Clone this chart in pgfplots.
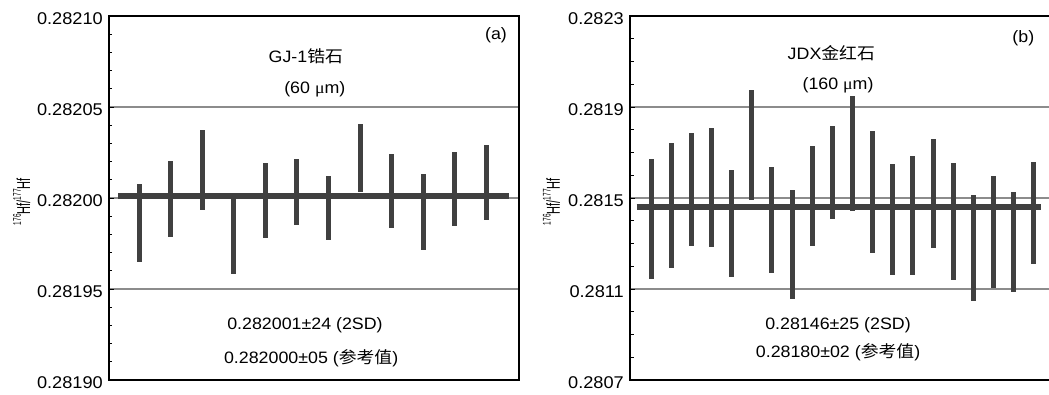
\documentclass[border=0pt]{standalone}
\usepackage{pgfplots}
\usepackage{pgfplotstable}
\pgfplotsset{compat=1.18}
\usepackage{fontspec}
\setmainfont{Liberation Sans}
\newfontfamily\cjk{Noto Sans CJK SC}
\newfontfamily\serif{Liberation Serif}
\definecolor{barc}{HTML}{404040}
\definecolor{gridc}{HTML}{8C8C8C}
\pgfplotstableread{
x y e
1 0.2819863 0.0000216
2 0.2819995 0.0000210
3 0.2820153 0.0000218
4 0.2819797 0.0000215
5 0.2819985 0.0000205
6 0.2820033 0.0000182
7 0.2819945 0.0000178
8 0.2820222 0.0000187
9 0.2820037 0.0000204
10 0.2819924 0.0000209
11 0.2820048 0.0000203
12 0.2820085 0.0000207
}\dataA
\pgfplotstableread{
x y e
1 0.2814065 0.0002644
2 0.2814658 0.0002738
3 0.2815394 0.0002484
4 0.2815454 0.0002613
5 0.2813876 0.0002350
6 0.2817322 0.0002410
7 0.2814030 0.0002329
8 0.2812956 0.0002381
9 0.2815088 0.0002204
10 0.2816124 0.0002031
11 0.2816963 0.0002519
12 0.2815263 0.0002686
13 0.2814065 0.0002438
14 0.2814227 0.0002600
15 0.2815184 0.0002388
16 0.2813971 0.0002576
17 0.2812810 0.0002335
18 0.2813504 0.0002447
19 0.2813051 0.0002199
20 0.2814328 0.0002250
}\dataB
\tikzset{annot/.style={font=\fontsize{16.5}{19}\selectfont, anchor=center, xscale=1.08}}
\newcommand{\hfratio}{\raisebox{0.5em}{\fontsize{6.5}{7}\selectfont 176}Hf/\raisebox{0.5em}{\fontsize{6.5}{7}\selectfont 177}Hf}
\begin{document}
\begin{tikzpicture}
\pgfplotsset{
  panel/.style={
    scale only axis, height=364pt,
    axis line style={black, line width=1.3pt},
    xtick=\empty,
    ytick pos=left,
    tick align=inside,
    major tick length=5pt, minor tick length=3.5pt,
    every tick/.style={black, line width=0.9pt},
    ymajorgrids, grid style={gridc, line width=1.5pt},
    yticklabel style={font=\fontsize{17}{20}\selectfont, inner sep=0pt, xshift=-6pt, yshift=-2.5pt, xscale=1.07},
    /pgf/number format/assume math mode=true,
    ylabel style={font=\fontsize{11}{13}\selectfont, anchor=center, yscale=1.7},
    clip=false,
  },
  bars/.style={draw=none, mark=none,
    error bars/.cd, y dir=both, y explicit, error mark=none,
    error bar style={line width=5pt, color=barc}},
}
% ---------- panel (a)
\begin{axis}[panel, at={(0pt,0pt)}, anchor=south west, width=410pt,
  xmin=0.05, xmax=13.03, ymin=0.28190, ymax=0.28210,
  ytick={0.28190,0.28195,0.28200,0.28205,0.28210},
  yticklabels={0.28190,0.28195,0.28200,0.28205,0.28210},
  minor ytick={0.28191,0.28192,0.28193,0.28194,0.28196,0.28197,0.28198,0.28199,0.28201,0.28202,0.28203,0.28204,0.28206,0.28207,0.28208,0.28209},
  ylabel={\hfratio},
  ylabel style={at={(axis description cs:-0.213,0.49)}},
]
\addplot[bars] table[x=x, y=y, y error=e] {\dataA};
\addplot[barc, line width=5.5pt] coordinates {(0.335,0.282001) (12.71,0.282001)};
\node[annot] at (rel axis cs:0.48,0.89) {GJ-1{\cjk 锆石}};
\node[annot] at (rel axis cs:0.502,0.80) {(60 {\serif μ}m)};
\node[annot] at (rel axis cs:0.944,0.948) {(a)};
\node[annot] at (rel axis cs:0.478,0.151) {0.282001±24 (2SD)};
\node[annot] at (rel axis cs:0.493,0.060) {0.282000±05 ({\cjk 参考值})};
\end{axis}
% ---------- panel (b)
\begin{axis}[panel, at={(521pt,0pt)}, anchor=south west, width=422pt,
  xmin=-0.042, xmax=20.90, ymin=0.2807, ymax=0.2823,
  ytick={0.2807,0.2811,0.2815,0.2819,0.2823},
  yticklabels={0.2807,0.2811,0.2815,0.2819,0.2823},
  minor ytick={0.2808,0.2809,0.2810,0.2812,0.2813,0.2814,0.2816,0.2817,0.2818,0.2820,0.2821,0.2822},
  ylabel={\hfratio},
  ylabel style={at={(axis description cs:-0.186,0.49)}},
]
\addplot[bars] table[x=x, y=y, y error=e] {\dataB};
\addplot[barc, line width=5.5pt] coordinates {(0.29,0.28146) (20.355,0.28146)};
\node[annot] at (rel axis cs:0.477,0.898) {JDX{\cjk 金红石}};
\node[annot] at (rel axis cs:0.493,0.81) {(160 {\serif μ}m)};
\node[annot] at (rel axis cs:0.932,0.94) {(b)};
\node[annot] at (rel axis cs:0.493,0.151) {0.28146±25 (2SD)};
\node[annot] at (rel axis cs:0.493,0.077) {0.28180±02 ({\cjk 参考值})};
\end{axis}
\pgfresetboundingbox
\useasboundingbox (-109pt,-14pt) rectangle (940pt,380pt);
\end{tikzpicture}
\end{document}
